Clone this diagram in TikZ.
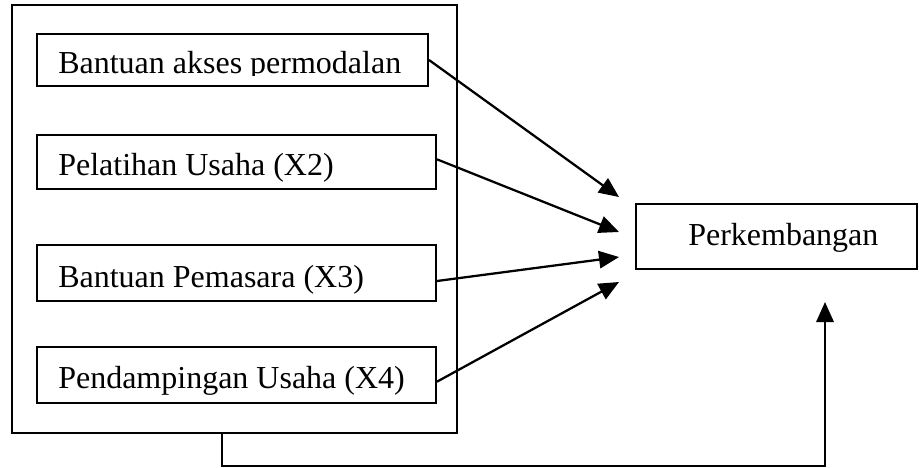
\documentclass[tikz,border=0pt]{standalone}
\usepackage{fontspec}
\setmainfont{Liberation Serif}
\usetikzlibrary{fit,arrows.meta}
\begin{document}
\begin{tikzpicture}[x=0.75pt,y=-0.75pt,
  box/.style={draw, line width=1.5pt, inner sep=0pt},
  lbl/.style={anchor=base west, inner sep=0pt, font=\fontsize{24}{28}\selectfont},
  arr/.style={line width=1.7pt, -{Triangle[length=15pt,width=13pt]}}]
\useasboundingbox (0,0) rectangle (919,467);
\node[box, fit={(12,5) (457,433)}] (outer) {};
\node[box, fit={(37,34) (428,86)}] (b1) {};
\node[box, fit={(37,135) (436,189)}] (b2) {};
\node[box, fit={(37,245) (436,301)}] (b3) {};
\node[box, fit={(37,347) (436,403)}] (b4) {};
\node[box, fit={(636,204) (917,269)}] (dv) {};
\begin{scope}
  \clip (37,34) rectangle (428,75.5);
  \node[lbl] (t1) at (58,74) {Bantuan akses permodalan};
\end{scope}
\node[lbl] (t2) at (58,175) {Pelatihan Usaha (X2)};
\node[lbl] (t3) at (58,287) {Bantuan Pemasara (X3)};
\node[lbl] (t4) at (58,388) {Pendampingan Usaha (X4)};
\node[lbl] (t5) at (688,245) {Perkembangan};
\coordinate (e1) at (619,197);
\coordinate (e2) at (619,232);
\coordinate (e3) at (619,257);
\coordinate (e4) at (619,282);
\coordinate (e5) at (825,302);
\draw[arr] (b1.east) -- (e1);
\draw[arr] ([yshift=2pt]b2.east) -- (e2);
\draw[arr] ([yshift=-6pt]b3.east) -- (e3);
\draw[arr] ([yshift=-5pt]b4.east) -- (e4);
\draw[arr] (outer.south -| 222,0) |- (825,466) -- (e5);
\end{tikzpicture}
\end{document}
